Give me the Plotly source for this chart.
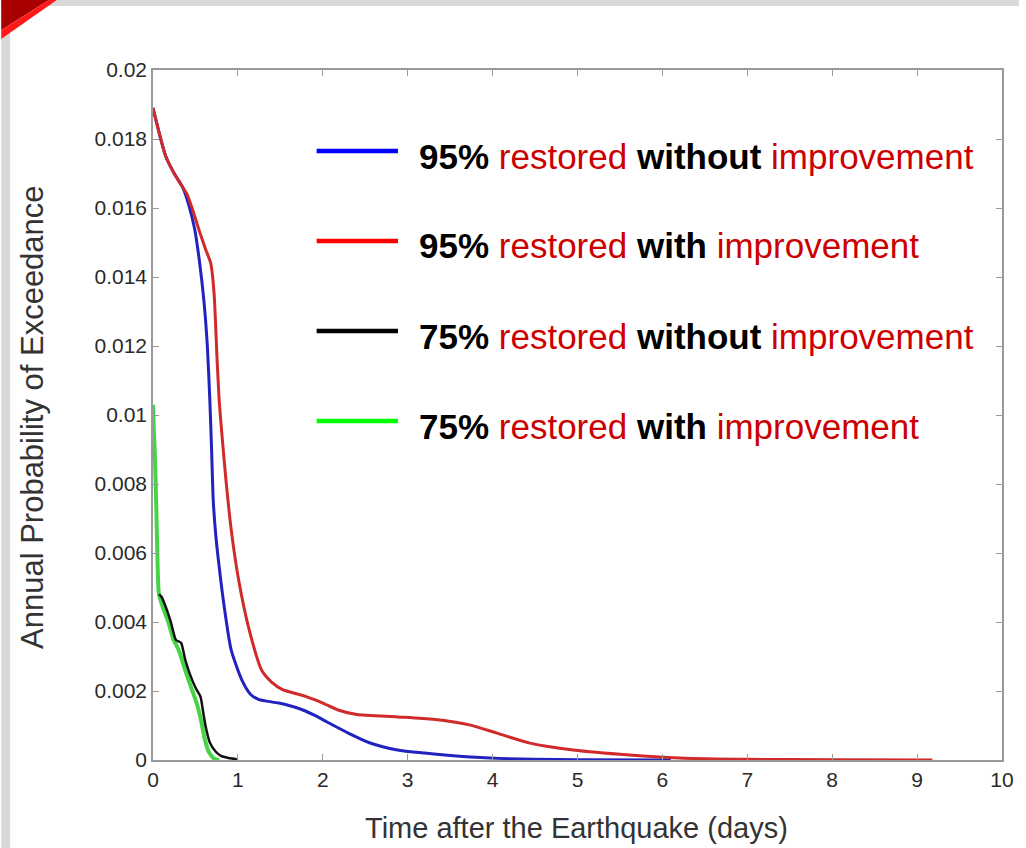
import plotly.graph_objects as go

# --- data: time after the earthquake (days) vs annual probability of exceedance ---
t_95_without = [0, 0.06, 0.15, 0.25, 0.35, 0.42, 0.49, 0.55, 0.60, 0.64, 0.67, 0.69, 0.71, 0.74,
                0.77, 0.83, 0.92, 1.05, 1.15, 1.25, 1.48, 1.71, 1.90, 2.05, 2.30, 2.55, 2.88,
                3.2, 3.47, 3.97, 4.5, 5.0, 6.1]
p_95_without = [0.0189, 0.0183, 0.0175, 0.0170, 0.0166, 0.0161, 0.0154, 0.0144, 0.0133, 0.0120,
                0.0104, 0.0090, 0.0075, 0.0065, 0.0058, 0.0046, 0.0032, 0.0023, 0.0019, 0.00175,
                0.00165, 0.00150, 0.00130, 0.00110, 0.00078, 0.00050, 0.00029, 0.00020, 0.00014,
                0.00006, 0.00002, 0.00001, 0.0]

t_95_with = [0, 0.06, 0.15, 0.25, 0.35, 0.40, 0.46, 0.55, 0.62, 0.68, 0.72, 0.755, 0.78, 0.82,
             0.86, 0.92, 1.01, 1.13, 1.28, 1.40, 1.52, 1.79, 2.0, 2.18, 2.40, 2.88, 3.3, 3.74,
             4.05, 4.44, 4.95, 5.61, 6.2, 7.0, 8.0, 9.18]
p_95_with = [0.0189, 0.0183, 0.0175, 0.0170, 0.0166, 0.0164, 0.0160, 0.0153, 0.0148, 0.0144,
             0.0135, 0.0116, 0.0104, 0.0092, 0.0081, 0.0067, 0.0052, 0.0038, 0.0026, 0.00225,
             0.00205, 0.00185, 0.00165, 0.00145, 0.00132, 0.00125, 0.00118, 0.00101, 0.00078,
             0.00049, 0.00029, 0.000145, 0.00006, 0.00002, 0.00001, 0.0]

t_75_without = [0.07, 0.10, 0.15, 0.21, 0.27, 0.33, 0.38, 0.43, 0.50, 0.56, 0.59, 0.62, 0.67,
                0.74, 0.80, 0.89, 0.97, 1.0]
p_75_without = [0.0048, 0.00473, 0.00444, 0.0040, 0.00348, 0.0034, 0.0029, 0.00252, 0.0021,
                0.00183, 0.0014, 0.00097, 0.0005, 0.00024, 0.00012, 0.00006, 0.00003, 0.0]

t_75_with = [0, 0.01, 0.02, 0.04, 0.055, 0.07, 0.12, 0.18, 0.24, 0.30, 0.38, 0.45, 0.52, 0.57,
             0.61, 0.66, 0.72, 0.78]
p_75_with = [0.0103, 0.0095, 0.0090, 0.0072, 0.0056, 0.0048, 0.0044, 0.0040, 0.0035, 0.0032,
             0.0026, 0.0021, 0.0016, 0.0011, 0.0006, 0.00022, 0.00004, 0.0]

x_ticks = [0, 1, 2, 3, 4, 5, 6, 7, 8, 9, 10]
y_ticks = [0, 0.002, 0.004, 0.006, 0.008, 0.01, 0.012, 0.014, 0.016, 0.018, 0.02]
y_tick_text = ["0", "0.002", "0.004", "0.006", "0.008", "0.01", "0.012", "0.014", "0.016",
               "0.018", "0.02"]

legend_labels = [
    ("95%", "without", "#0000ff"),
    ("95%", "with", "#ff0000"),
    ("75%", "without", "#000000"),
    ("75%", "with", "#00ff00"),
]

# --- page geometry (pixels) ---
W, H = 1026, 848
L, R, T, B = 153, 17, 70, 88
PW, PH = W - L - R, H - T - B


def px(x):
    return (x - L) / PW


def py(y):
    return 1 - (y - T) / PH


fig = go.Figure()

curve_style = dict(mode="lines", line_shape="spline", showlegend=False, hoverinfo="skip")
fig.add_trace(go.Scatter(x=t_95_without, y=p_95_without,
                         line=dict(color="#2222c0", width=3, smoothing=0.6), **curve_style))
fig.add_trace(go.Scatter(x=t_95_with, y=p_95_with,
                         line=dict(color="#d02a2a", width=3, smoothing=0.6), **curve_style))
fig.add_trace(go.Scatter(x=t_75_with, y=p_75_with,
                         line=dict(color="#45d445", width=4, smoothing=0.6), **curve_style))
fig.add_trace(go.Scatter(x=t_75_without, y=p_75_without,
                         line=dict(color="#111111", width=2.5, smoothing=0.6), **curve_style))

shapes = []
# grey page border on top and left, red corner accent
shapes.append(dict(type="rect", xref="paper", yref="paper", x0=px(0), x1=px(W), y0=py(0), y1=py(6),
                   fillcolor="#d9d9d9", line_width=0, layer="below"))
shapes.append(dict(type="rect", xref="paper", yref="paper", x0=px(0), x1=px(9), y0=py(0), y1=py(H),
                   fillcolor="#d9d9d9", line_width=0, layer="below"))
shapes.append(dict(type="path", xref="paper", yref="paper",
                   path=f"M {px(0)},{py(0)} L {px(48)},{py(0)} L {px(0)},{py(30)} Z",
                   fillcolor="#a80000", line_width=0))
shapes.append(dict(type="path", xref="paper", yref="paper",
                   path=f"M {px(48)},{py(0)} L {px(56)},{py(0)} L {px(0)},{py(39)} L {px(0)},{py(30)} Z",
                   fillcolor="#ff1a1a", line_width=0))

annotations = []
row_y = [151, 241, 331, 421]
for (pct, word, color), yy in zip(legend_labels, row_y):
    shapes.append(dict(type="line", xref="paper", yref="paper", x0=px(318), x1=px(400),
                       y0=py(yy), y1=py(yy), line=dict(color=color, width=4.5)))
    text = (f"<b>{pct}</b> <span style='color:#cc0000'>restored</span> "
            f"<b>{word}</b> <span style='color:#cc0000'>improvement</span>")
    annotations.append(dict(xref="paper", yref="paper", x=px(419), y=py(yy + 5),
                            xanchor="left", yanchor="middle", showarrow=False, text=text,
                            font=dict(family="Liberation Sans, Arial", size=35, color="#000000")))

annotations.append(dict(xref="paper", yref="paper", x=px(580), y=py(828), showarrow=False,
                        text="Time after the Earthquake (days)", xanchor="center", yanchor="middle",
                        font=dict(family="Liberation Sans, Arial", size=29, color="#333333")))
annotations.append(dict(xref="paper", yref="paper", x=px(32), y=py(417), showarrow=False,
                        text="Annual Probability of Exceedance", textangle=-90,
                        xanchor="center", yanchor="middle",
                        font=dict(family="Liberation Sans, Arial", size=31, color="#333333")))

axis_common = dict(showline=True, mirror="ticks", linecolor="#9a9a9a", linewidth=1.5,
                   ticks="inside", ticklen=6, tickcolor="#9a9a9a", tickwidth=1,
                   showgrid=False, zeroline=False,
                   tickfont=dict(family="Liberation Sans, Arial", size=21, color="#2a2a2a"))

fig.update_layout(
    width=W, height=H,
    margin=dict(l=L, r=R, t=T, b=B, pad=0),
    paper_bgcolor="white", plot_bgcolor="white",
    xaxis=dict(range=[0, 10], tickvals=x_ticks, ticktext=[str(v) for v in x_ticks], **axis_common),
    yaxis=dict(range=[0, 0.02], tickvals=y_ticks, ticktext=y_tick_text, **axis_common),
    shapes=shapes, annotations=annotations,
)

fig.write_html("out.html")
